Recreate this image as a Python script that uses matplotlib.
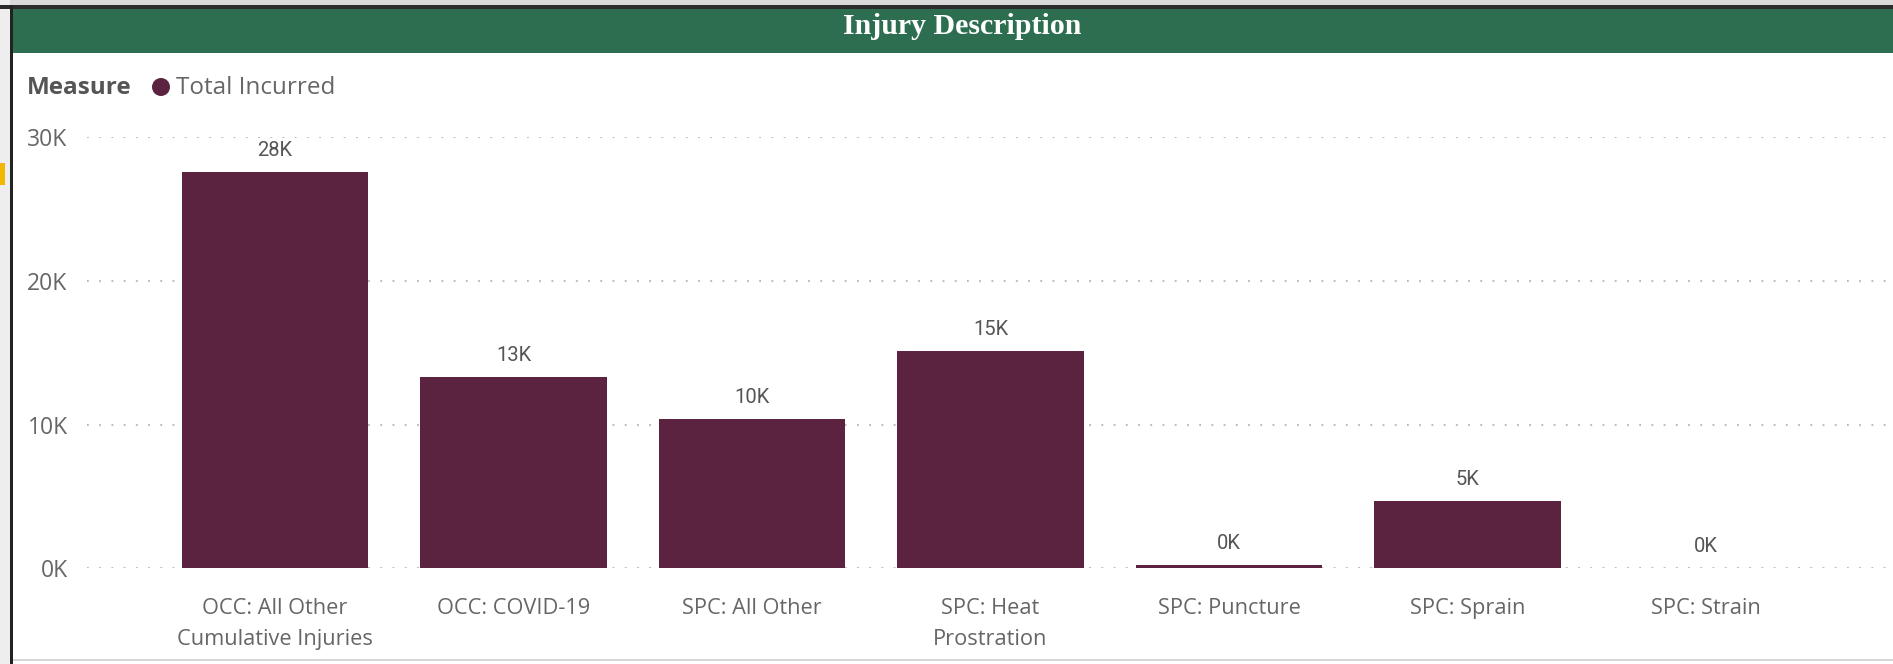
import matplotlib
matplotlib.use("Agg")
import matplotlib.pyplot as plt
from matplotlib.patches import Rectangle, Circle
from matplotlib.ticker import FixedLocator, FuncFormatter

# ---- data ----
categories = ["OCC: All Other\nCumulative Injuries", "OCC: COVID-19", "SPC: All Other",
              "SPC: Heat\nProstration", "SPC: Puncture", "SPC: Sprain", "SPC: Strain"]
total_incurred = [27600, 13300, 10400, 15100, 230, 4700, 0]
y_ticks = [0, 10000, 20000, 30000]
title = "Injury Description"
legend_title = "Measure"
series_name = "Total Incurred"

# ---- style ----
W, H = 1893, 664
DPI = 100
BAR = "#5B2340"
GREEN = "#2C6E4F"
TXT = "#666666"

plt.rcParams["lines.scale_dashes"] = False
fig = plt.figure(figsize=(W / DPI, H / DPI), dpi=DPI)
fig.patch.set_facecolor("white")

def px(x, y):
    """pixel (from top-left) -> figure fraction"""
    return x / W, 1 - y / H

def rect(x0, y0, x1, y1, color, z=0):
    fx, fy = px(x0, y1)
    fig.patches.append(Rectangle((fx, fy), (x1 - x0) / W, (y1 - y0) / H,
                                 transform=fig.transFigure, facecolor=color,
                                 edgecolor="none", zorder=z))

# frame decorations
rect(0, 0, W, 5, "#d9d9d9")
rect(0, 0, 10, H, "#eeeeee")
rect(0, 5, W, 9, "#2b2b2b")
rect(10, 5, 13, H, "#222222")
rect(0, 163, 5, 185, "#F2B705")
rect(13, 9, W, 53, GREEN)
rect(13, 659, W, 661, "#d6d6d6")

tx, ty = px(962, 34)
fig.text(tx, ty, title, ha="center", va="baseline", color="white",
         fontsize=21.5, fontweight="bold", family="Liberation Serif")

# legend
lx, ly = px(27, 88)
fig.text(lx, ly, legend_title, ha="left", va="center", color="#555555",
         fontsize=17.5, fontweight="bold", family="Open Sans")
fig.patches.append(Circle((161, H - 87), 9, transform=None, facecolor=BAR,
                          edgecolor="none"))
sx, sy = px(176, 88)
fig.text(sx, sy, series_name, ha="left", va="center", color=TXT,
         fontsize=17.5, family="Open Sans")

# ---- chart axes ----
ax_left, ax_right = 87, W
ax_top, ax_bot = 137.3, 568.3
ax = fig.add_axes([ax_left / W, 1 - ax_bot / H, (ax_right - ax_left) / W,
                   (ax_bot - ax_top) / H])
ax.set_facecolor("none")
x = list(range(len(categories)))
bars = ax.bar(x, total_incurred, width=0.78, color=BAR, zorder=3)
ax.set_ylim(0, 30000)
ax.set_xlim((ax_left - 275) / 238.5, (ax_right - 275) / 238.5)
ax.yaxis.set_major_locator(FixedLocator(y_ticks))
ax.yaxis.set_major_formatter(FuncFormatter(lambda v, p: f"{int(round(v / 1000))}K"))
ax.set_xticks(x)
ax.set_xticklabels(categories, family="Open Sans", fontsize=15.7, color=TXT,
                   linespacing=1.6)
for lab in ax.get_yticklabels():
    lab.set_family("Open Sans")
    lab.set_fontsize(16.5)
    lab.set_color(TXT)
ax.tick_params(axis="both", length=0)
ax.tick_params(axis="x", pad=21.5)
ax.tick_params(axis="y", pad=14)
for s in ax.spines.values():
    s.set_visible(False)
ax.grid(axis="y", color="#bcbcbc", linewidth=1.5, dashes=(1.3, 7.5), zorder=1)
ax.set_axisbelow(True)

for rect_, v in zip(bars, total_incurred):
    ax.annotate(f"{int(round(v / 1000))}K",
                (rect_.get_x() + rect_.get_width() / 2, v),
                xytext=(0, 15.5), textcoords="offset points",
                ha="center", va="center", family="Roboto", fontsize=14.5,
                color="#555555")

fig.savefig("out.png", dpi=DPI)
